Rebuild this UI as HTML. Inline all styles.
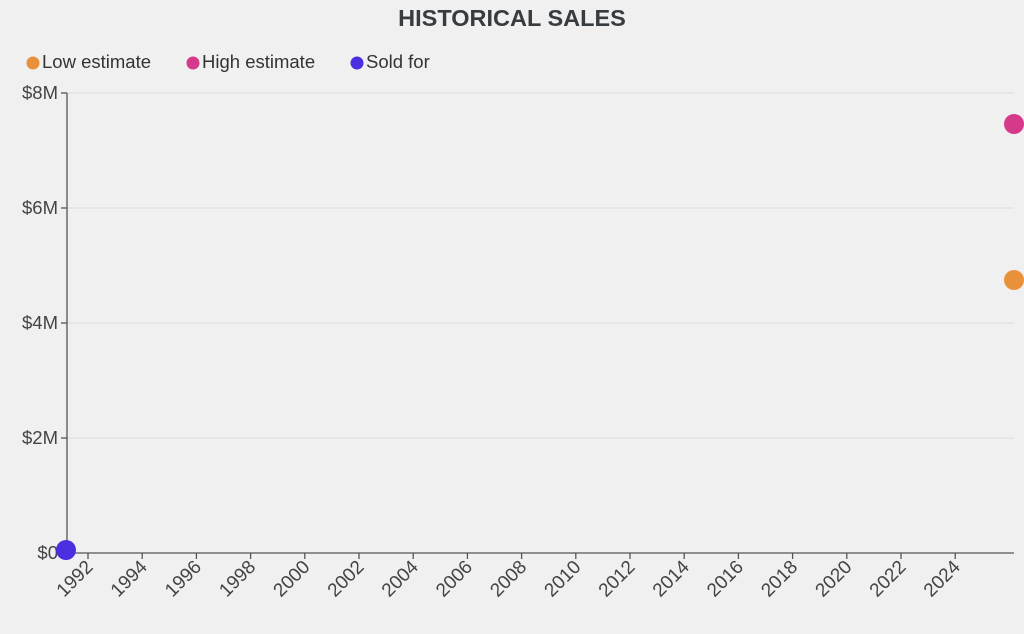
<!DOCTYPE html>
<html><head><style>body{margin:0;background:#f0f0f0;}svg{display:block;font-family:"Liberation Sans",sans-serif;}</style></head><body>
<svg width="1024" height="634" xmlns="http://www.w3.org/2000/svg">
<rect width="1024" height="634" fill="#f0f0f0"/>
<text x="512" y="26" text-anchor="middle" font-size="23.5" font-weight="bold" fill="#373c40">HISTORICAL SALES</text>
<g font-size="18.5" fill="#333">
<circle cx="33" cy="63" r="6.5" fill="#e8913a"/><text x="42" y="68">Low estimate</text>
<circle cx="193" cy="63" r="6.5" fill="#d6388a"/><text x="202" y="68">High estimate</text>
<circle cx="357" cy="63" r="6.5" fill="#4a2fe0"/><text x="366" y="68">Sold for</text>
</g>
<g stroke="#dcdcdc" stroke-width="1">
<line x1="67" y1="93" x2="1014" y2="93"/><line x1="67" y1="208" x2="1014" y2="208"/><line x1="67" y1="323" x2="1014" y2="323"/><line x1="67" y1="438" x2="1014" y2="438"/>
</g>
<g stroke="#555" stroke-width="1.3">
<line x1="67" y1="93" x2="67" y2="553"/><line x1="67" y1="553" x2="1014" y2="553"/>
<line x1="61" y1="93" x2="67" y2="93"/><line x1="61" y1="208" x2="67" y2="208"/><line x1="61" y1="323" x2="67" y2="323"/><line x1="61" y1="438" x2="67" y2="438"/><line x1="61" y1="553" x2="67" y2="553"/>
<line x1="88" y1="553" x2="88" y2="559"/><line x1="142.2" y1="553" x2="142.2" y2="559"/><line x1="196.4" y1="553" x2="196.4" y2="559"/><line x1="250.6" y1="553" x2="250.6" y2="559"/><line x1="304.8" y1="553" x2="304.8" y2="559"/><line x1="359" y1="553" x2="359" y2="559"/><line x1="413.2" y1="553" x2="413.2" y2="559"/><line x1="467.4" y1="553" x2="467.4" y2="559"/><line x1="521.6" y1="553" x2="521.6" y2="559"/><line x1="575.8" y1="553" x2="575.8" y2="559"/><line x1="630" y1="553" x2="630" y2="559"/><line x1="684.2" y1="553" x2="684.2" y2="559"/><line x1="738.4" y1="553" x2="738.4" y2="559"/><line x1="792.6" y1="553" x2="792.6" y2="559"/><line x1="846.8" y1="553" x2="846.8" y2="559"/><line x1="901" y1="553" x2="901" y2="559"/><line x1="955.2" y1="553" x2="955.2" y2="559"/>
</g>
<g font-size="18.5" fill="#444" text-anchor="end">
<text x="58" y="99">$8M</text><text x="58" y="214">$6M</text><text x="58" y="329">$4M</text><text x="58" y="444">$2M</text><text x="58" y="559">$0</text>
</g>
<g font-size="19" fill="#444" text-anchor="end">
<text transform="translate(94,568) rotate(-45)">1992</text>
<text transform="translate(148.2,568) rotate(-45)">1994</text>
<text transform="translate(202.4,568) rotate(-45)">1996</text>
<text transform="translate(256.6,568) rotate(-45)">1998</text>
<text transform="translate(310.8,568) rotate(-45)">2000</text>
<text transform="translate(365,568) rotate(-45)">2002</text>
<text transform="translate(419.2,568) rotate(-45)">2004</text>
<text transform="translate(473.4,568) rotate(-45)">2006</text>
<text transform="translate(527.6,568) rotate(-45)">2008</text>
<text transform="translate(581.8,568) rotate(-45)">2010</text>
<text transform="translate(636,568) rotate(-45)">2012</text>
<text transform="translate(690.2,568) rotate(-45)">2014</text>
<text transform="translate(744.4,568) rotate(-45)">2016</text>
<text transform="translate(798.6,568) rotate(-45)">2018</text>
<text transform="translate(852.8,568) rotate(-45)">2020</text>
<text transform="translate(907,568) rotate(-45)">2022</text>
<text transform="translate(961.2,568) rotate(-45)">2024</text>
</g>
<circle cx="1014" cy="124" r="10" fill="#d6388a"/>
<circle cx="1014" cy="280" r="10" fill="#e8913a"/>
<circle cx="66" cy="550" r="10" fill="#4a2fe0"/>
</svg>
</body></html>
